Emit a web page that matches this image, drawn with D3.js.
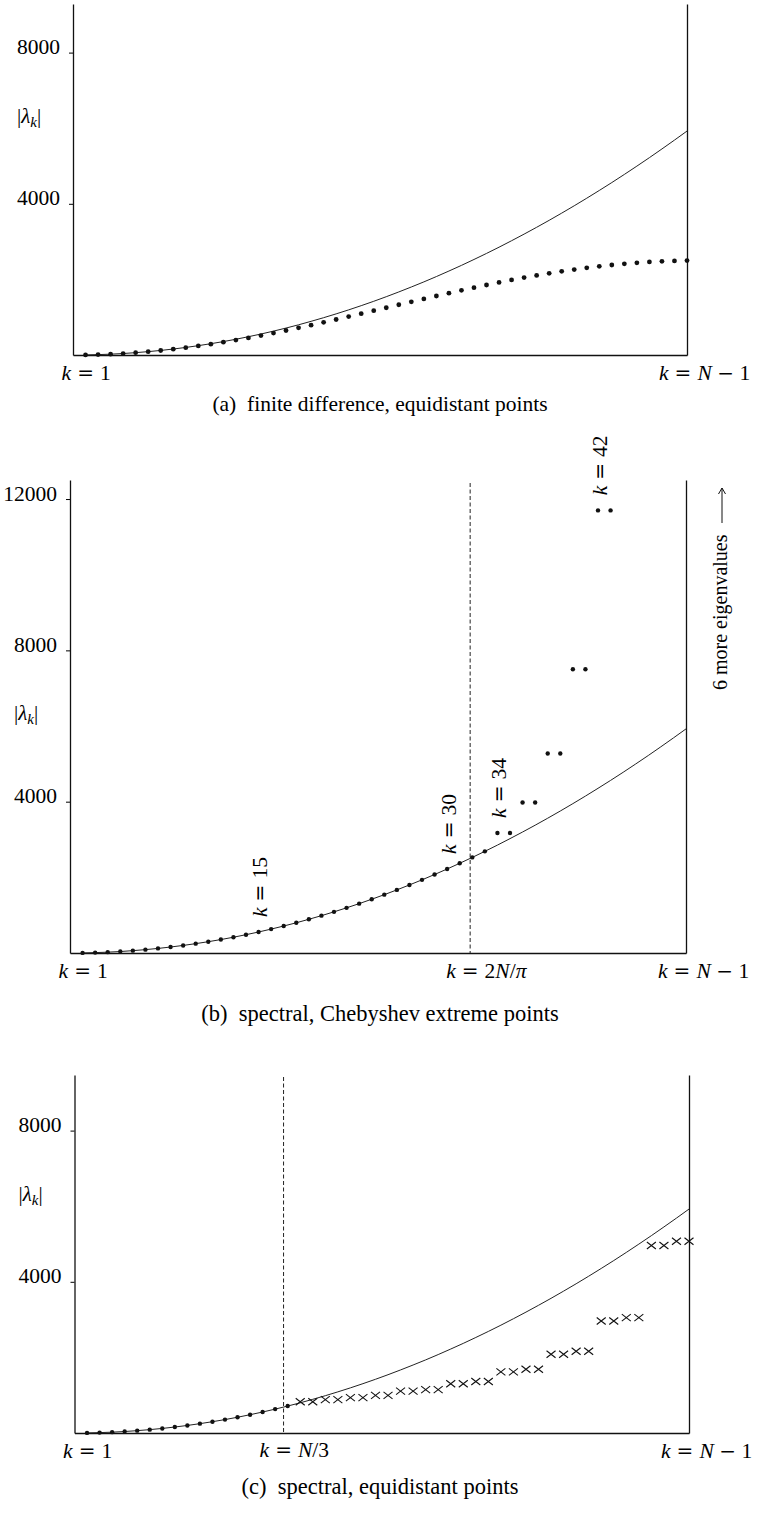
<!DOCTYPE html>
<html>
  <head>
    <meta charset="utf-8" />
    <title>Eigenvalues of the second derivative</title>
    <script src="https://d3js.org/d3.v7.min.js"></script>
    <style>
        body{
            margin: 0;
            background: #fff;
        }
        svg text{
            font-family: "Liberation Serif", "DejaVu Serif", serif;
            fill: #000;
            white-space: pre;
        }
        svg .op{
            font-family: "DejaVu Serif", serif;
            font-size: 20px;
        }
    </style>
  </head>
  <body>
    <svg id="vis" width="759" height="1513"></svg>

    <script>
        // mode number k = 1 .. N-1, N = 50
        var kAll = [1, 2, 3, 4, 5, 6, 7, 8, 9, 10, 11, 12, 13, 14, 15, 16, 17, 18, 19, 20,
                    21, 22, 23, 24, 25, 26, 27, 28, 29, 30, 31, 32, 33, 34, 35, 36, 37, 38, 39, 40,
                    41, 42, 43, 44, 45, 46, 47, 48, 49];

        // exact eigenvalues (solid curve)
        var exactEig = [2, 10, 22, 39, 62, 89, 121, 158, 200, 247, 299, 355, 417, 484, 555, 632, 713, 799, 891, 987,
                        1088, 1194, 1305, 1421, 1542, 1668, 1799, 1934, 2075, 2221, 2371, 2527, 2687, 2852, 3023, 3198, 3378, 3563, 3753, 3948,
                        4148, 4353, 4562, 4777, 4997, 5221, 5451, 5685, 5924];

        // (a) finite difference eigenvalues
        var fdEig = [2, 10, 22, 39, 61, 88, 119, 155, 195, 239, 287, 339, 394, 453, 515, 580, 648, 718, 790, 864,
                     939, 1016, 1093, 1172, 1250, 1329, 1407, 1484, 1561, 1636, 1710, 1782, 1852, 1920, 1985, 2047, 2106, 2161, 2213, 2261,
                     2305, 2345, 2381, 2412, 2439, 2461, 2478, 2490, 2498];

        // (b) Chebyshev spectral eigenvalues, k = 1..43 (6 more off the chart)
        var chebEig = [2, 10, 22, 39, 62, 89, 121, 158, 200, 247, 299, 355, 417, 484, 555, 632, 713, 799, 891, 987,
                       1088, 1194, 1305, 1421, 1542, 1668, 1799, 1934, 2075, 2221, 2371, 2527, 2687, 3174, 3174, 3980, 3980, 5275, 5275, 7500,
                       7500, 11700, 11700];
        var chebNotes = [15, 30, 34, 42];

        // (c) equidistant spectral: accurate dots k = 1..17, crosses k = 18..49
        var equiDotEig = [2, 10, 22, 39, 62, 89, 121, 158, 200, 247, 299, 355, 417, 484, 555, 632, 713];
        var equiCrossEig = [826, 826, 884, 884, 936, 936, 994, 994, 1108, 1108, 1148, 1148, 1302, 1302, 1363, 1363,
                            1617, 1617, 1685, 1685, 2084, 2084, 2164, 2164, 2963, 2963, 3053, 3053, 4960, 4960, 5074, 5074];

        var ticksA = [4000, 8000];
        var ticksB = [4000, 8000, 12000];
        var ticksC = [4000, 8000];

        var kTwoNOverPi = 31.83;
        var kNOverThree = 16.67;

        var captions = ["(a)  finite difference, equidistant points",
                        "(b)  spectral, Chebyshev extreme points",
                        "(c)  spectral, equidistant points"];

        var svg = d3.select("#vis");

        var panels = [
            {left: 73, right: 687, top: 4, bottom: 355, ppk: 37.8, ticks: ticksA, caption: captions[0], capY: 411, capSize: 21.5},
            {left: 70, right: 686, top: 480, bottom: 953, ppk: 37.83, ticks: ticksB, caption: captions[1], capY: 1021, capSize: 22.5},
            {left: 74.5, right: 689, top: 1075, bottom: 1433, ppk: 37.8, ticks: ticksC, caption: captions[2], capY: 1494, capSize: 22.5}
        ];

        // "k = ..." with the equals sign centred on ex
        function kEquals(parent, ex, ey, rhs, transform) {
            var g = parent.append("g");
            if (transform) g.attr("transform", transform);
            g.append("text").attr("x", ex - 14.4).attr("y", ey).attr("text-anchor", "end")
                .attr("font-style", "italic").attr("font-size", 21.5).text("k");
            g.append("text").attr("class", "op").attr("x", ex).attr("y", ey)
                .attr("text-anchor", "middle").text("=");
            var t = g.append("text").attr("x", ex + 14.4).attr("y", ey).attr("font-size", 21.5);
            rhs.forEach(function (p) {
                var s = t.append("tspan").text(p.t);
                if (p.it) s.attr("font-style", "italic");
                if (p.op) s.attr("class", "op");
                if (p.dx) s.attr("dx", p.dx);
            });
            return g;
        }

        var rhsOne = [{t: "1"}];
        var rhsLast = [{t: "N", it: true}, {t: "\u2212", op: true, dx: 5.5}, {t: "1", dx: 5.5}];

        panels.forEach(function (p) {
            p.x = d3.scaleLinear().domain([0, 49]).range([p.left, p.right]);
            p.y = d3.scaleLinear().domain([0, (p.bottom - p.top) / p.ppk * 1000]).range([p.bottom, p.top]);
            p.g = svg.append("g");

            var yAxis = d3.axisLeft(p.y).tickValues(p.ticks).tickSize(4).tickSizeOuter(0)
                .tickPadding(9).tickFormat(d3.format("d"));
            var ax = p.g.append("g").attr("transform", "translate(" + p.left + ",0)").call(yAxis);
            ax.attr("font-size", null).attr("font-family", null);
            ax.selectAll("text").attr("dy", "0.05em").attr("font-size", 21.5);

            p.g.append("g").attr("transform", "translate(0," + p.bottom + ")")
                .call(d3.axisBottom(p.x).tickValues([]).tickSizeOuter(0));
            p.g.append("g").attr("transform", "translate(" + p.right + ",0)")
                .call(d3.axisRight(p.y).tickValues([]).tickSizeOuter(0));
            p.g.selectAll(".domain").attr("stroke", "#111").attr("stroke-width", 1.3);

            // |lambda_k|
            var lab = p.g.append("text").attr("x", p.left - 56).attr("y", p.y(8000) + 70).attr("font-size", 21);
            lab.append("tspan").text("|");
            lab.append("tspan").attr("font-style", "italic").text("\u03bb");
            lab.append("tspan").attr("font-style", "italic").attr("font-size", 15).attr("dy", 4).text("k");
            lab.append("tspan").attr("dy", -4).text("|");

            // exact curve
            var line = d3.line().x(function (d, i) { return p.x(kAll[i]); })
                .y(function (d) { return p.y(d); }).curve(d3.curveMonotoneX);
            p.g.append("path").datum(exactEig).attr("d", line)
                .attr("fill", "none").attr("stroke", "#222").attr("stroke-width", 1);

            kEquals(p.g, p.x(1), p.bottom + 25, rhsOne);
            kEquals(p.g, p.x(49) - 4, p.bottom + 25, rhsLast);

            p.g.append("text").attr("x", 380).attr("y", p.capY).attr("text-anchor", "middle")
                .attr("font-size", p.capSize).attr("xml:space", "preserve").text(p.caption);
        });

        // (a) finite difference dots
        var pa = panels[0];
        pa.g.selectAll("circle.fd").data(fdEig).enter().append("circle")
            .attr("class", "fd")
            .attr("cx", function (d, i) { return pa.x(kAll[i]); })
            .attr("cy", function (d) { return pa.y(d); })
            .attr("r", 2.4).attr("fill", "#111");

        // (b) Chebyshev
        var pb = panels[1];
        pb.g.append("line")
            .attr("x1", pb.x(kTwoNOverPi)).attr("x2", pb.x(kTwoNOverPi))
            .attr("y1", pb.top + 3).attr("y2", pb.bottom)
            .attr("stroke", "#222").attr("stroke-width", 1).attr("stroke-dasharray", "4,2.5");
        pb.g.selectAll("circle.cheb").data(chebEig).enter().append("circle")
            .attr("class", "cheb")
            .attr("cx", function (d, i) { return pb.x(kAll[i]); })
            .attr("cy", function (d) { return pb.y(d); })
            .attr("r", 2.2).attr("fill", "#111");
        chebNotes.forEach(function (k) {
            var tx = pb.x(k) + 8.5, ty = pb.y(chebEig[k - 1]);
            kEquals(pb.g, 39, 0, [{t: String(k)}], "translate(" + tx + "," + ty + ") rotate(-90)");
        });
        kEquals(pb.g, pb.x(kTwoNOverPi), pb.bottom + 25,
            [{t: "2"}, {t: "N", it: true}, {t: "/"}, {t: "\u03c0", it: true}]);

        var more = pb.g.append("g").attr("transform", "translate(726.5,690) rotate(-90)");
        more.append("text").attr("x", 0).attr("y", 0).attr("font-size", 20).text("6 more eigenvalues");
        more.append("path").attr("d", "M167,-4.5H202M196,-8L202,-4.5L196,-1")
            .attr("fill", "none").attr("stroke", "#111").attr("stroke-width", 1);

        // (c) equidistant spectral
        var pc = panels[2];
        pc.g.append("line")
            .attr("x1", pc.x(kNOverThree)).attr("x2", pc.x(kNOverThree))
            .attr("y1", pc.top + 2).attr("y2", pc.bottom)
            .attr("stroke", "#222").attr("stroke-width", 1).attr("stroke-dasharray", "4,2.5");
        pc.g.selectAll("circle.eq").data(equiDotEig).enter().append("circle")
            .attr("class", "eq")
            .attr("cx", function (d, i) { return pc.x(kAll[i]); })
            .attr("cy", function (d) { return pc.y(d); })
            .attr("r", 2.2).attr("fill", "#111");
        pc.g.selectAll("path.cross").data(equiCrossEig).enter().append("path")
            .attr("class", "cross")
            .attr("transform", function (d, i) {
                return "translate(" + pc.x(kAll[i + equiDotEig.length]) + "," + pc.y(d) + ")";
            })
            .attr("d", "M-4.5,-3.5L4.5,3.5M-4.5,3.5L4.5,-3.5")
            .attr("stroke", "#111").attr("stroke-width", 1.1);
        kEquals(pc.g, pc.x(kNOverThree), pc.bottom + 24,
            [{t: "N", it: true}, {t: "/"}, {t: "3"}]);
    </script>
  </body>
</html>
